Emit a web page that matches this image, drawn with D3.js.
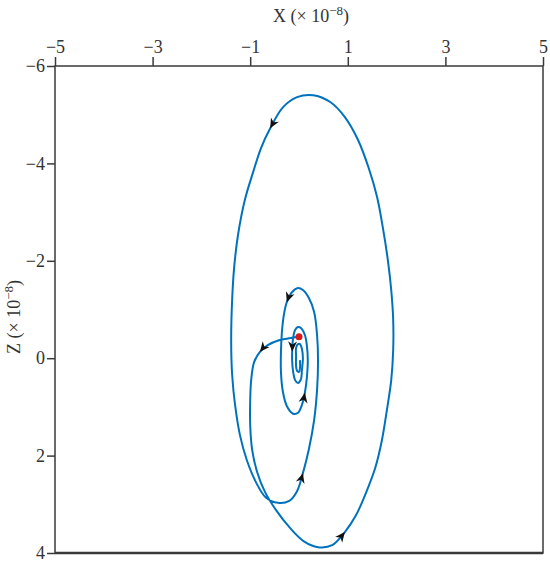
<!DOCTYPE html>
<html>
<head>
<meta charset="utf-8">
<script src="https://cdn.jsdelivr.net/npm/d3@7"></script>
<style>
  body { margin: 0; background: #fff; }
  svg text { font-family: "Liberation Serif", "DejaVu Serif", serif; fill: #333; }
</style>
</head>
<body>
<svg id="chart" width="550" height="566"></svg>
<script>
// trajectory in units of 1e-8, starting at the red dot
const xVals = [0.00, -0.20, -0.41, -0.64, -0.80, -0.92, -0.98, -1.00, -1.00, -0.96,
  -0.86, -0.70, -0.47, -0.18, 0.10, 0.39, 0.68, 0.94, 1.17, 1.37,
  1.56, 1.70, 1.80, 1.89, 1.93, 1.93, 1.89, 1.82, 1.72, 1.60,
  1.43, 1.21, 0.94, 0.64, 0.29, -0.04, -0.33, -0.59, -0.78, -0.94,
  -1.11, -1.25, -1.33, -1.37, -1.39, -1.37, -1.31, -1.21, -1.07, -0.88,
  -0.68, -0.43, -0.20, -0.04, 0.08, 0.20, 0.31, 0.37, 0.39, 0.37,
  0.31, 0.20, 0.08, -0.02, -0.14, -0.25, -0.31, -0.35, -0.37, -0.37,
  -0.33, -0.25, -0.12, -0.02, 0.06, 0.12, 0.16, 0.18, 0.16, 0.12,
  0.04, -0.02, -0.08, -0.12, -0.14, -0.14, -0.12, -0.08, -0.02, 0.04,
  0.06, 0.08, 0.06, 0.02, -0.02, -0.06, -0.06, -0.06, -0.04, 0.00,
  0.02, 0.02];
const zVals = [-0.44, -0.41, -0.37, -0.27, -0.13, 0.08, 0.45, 0.86, 1.37, 1.88,
  2.33, 2.74, 3.12, 3.49, 3.76, 3.88, 3.84, 3.57, 3.22, 2.77,
  2.26, 1.68, 1.07, 0.45, -0.17, -0.79, -1.40, -2.02, -2.67, -3.31,
  -3.90, -4.48, -4.95, -5.26, -5.40, -5.36, -5.15, -4.72, -4.31, -3.82,
  -3.25, -2.53, -1.85, -1.20, -0.37, 0.34, 0.96, 1.58, 2.09, 2.55,
  2.86, 2.97, 2.93, 2.73, 2.36, 1.88, 1.27, 0.65, 0.04, -0.48,
  -0.95, -1.24, -1.40, -1.44, -1.36, -1.15, -0.89, -0.54, -0.13, 0.28,
  0.69, 0.98, 1.14, 1.12, 0.96, 0.71, 0.41, 0.04, -0.27, -0.48,
  -0.62, -0.64, -0.58, -0.42, -0.14, 0.06, 0.28, 0.45, 0.51, 0.43,
  0.24, 0.00, -0.19, -0.29, -0.29, -0.21, -0.05, 0.16, 0.26, 0.28,
  0.20, 0.04];
// arrows sit on these points of the trajectory
const arrowAt = [4, 17, 37, 54, 65, 75, 84];
const xTicks = [-5, -3, -1, 1, 3, 5];
const zTicks = [-6, -4, -2, 0, 2, 4];

const svg = d3.select("#chart");
const mLeft = 55, mRight = 543, mTop = 66, mBottom = 553;

const x = d3.scaleLinear().domain([-5, 5]).range([mLeft, mRight]);
const y = d3.scaleLinear().domain([-6, 4]).range([mTop, mBottom]);

const pts = xVals.map((v, i) => [v, zVals[i]]);

// frame
svg.append("rect")
  .attr("x", mLeft).attr("y", mTop)
  .attr("width", mRight - mLeft).attr("height", mBottom - mTop)
  .attr("fill", "none").attr("stroke", "#3a3a3a").attr("stroke-width", 1.5);
svg.append("line")
  .attr("x1", mLeft).attr("x2", mRight).attr("y1", mBottom).attr("y2", mBottom)
  .attr("stroke", "#3a3a3a").attr("stroke-width", 2.5);

const xAxis = svg.append("g")
  .attr("transform", `translate(0,${mTop})`)
  .call(d3.axisTop(x).tickValues(xTicks).tickSize(9).tickPadding(4));
const yAxis = svg.append("g")
  .attr("transform", `translate(${mLeft},0)`)
  .call(d3.axisLeft(y).tickValues(zTicks).tickSize(8).tickPadding(2));

[xAxis, yAxis].forEach(g => {
  g.select(".domain").remove();
  g.selectAll(".tick line").attr("stroke", "#3a3a3a").attr("stroke-width", 1.5);
  g.selectAll(".tick text").attr("font-size", 18).attr("fill", "#333")
    .style("font-family", "'Liberation Serif', serif");
});

// axis titles
const xt = svg.append("text").attr("x", 311).attr("y", 22)
  .attr("text-anchor", "middle").attr("font-size", 18);
xt.append("tspan").text("X (× 10");
xt.append("tspan").attr("dy", -7).attr("font-size", 13).text("−8");
xt.append("tspan").attr("dy", 7).text(")");

const yt = svg.append("text")
  .attr("transform", "translate(20,317) rotate(-90)")
  .attr("text-anchor", "middle").attr("font-size", 18);
yt.append("tspan").text("Z (× 10");
yt.append("tspan").attr("dy", -7).attr("font-size", 13).text("−8");
yt.append("tspan").attr("dy", 7).text(")");

// trajectory
const line = d3.line()
  .x(d => x(d[0])).y(d => y(d[1]))
  .curve(d3.curveCatmullRom.alpha(0.5));

svg.append("path")
  .datum(pts)
  .attr("d", line)
  .attr("fill", "none")
  .attr("stroke", "#0072BD")
  .attr("stroke-width", 2);

// direction arrows
svg.selectAll(".arrow")
  .data(arrowAt)
  .enter()
  .append("path")
  .attr("class", "arrow")
  .attr("d", "M0,0 L-10,-4.5 L-7,0 L-10,4.5 Z")
  .attr("fill", "#111")
  .attr("transform", i => {
    const a = pts[i - 1], b = pts[i + 1], p = pts[i];
    const ang = Math.atan2(y(b[1]) - y(a[1]), x(b[0]) - x(a[0])) * 180 / Math.PI;
    return `translate(${x(p[0])},${y(p[1])}) rotate(${ang})`;
  });

// start point
svg.append("circle")
  .attr("cx", x(pts[0][0])).attr("cy", y(pts[0][1]))
  .attr("r", 3.5)
  .attr("fill", "#d7191c");
</script>
</body>
</html>
